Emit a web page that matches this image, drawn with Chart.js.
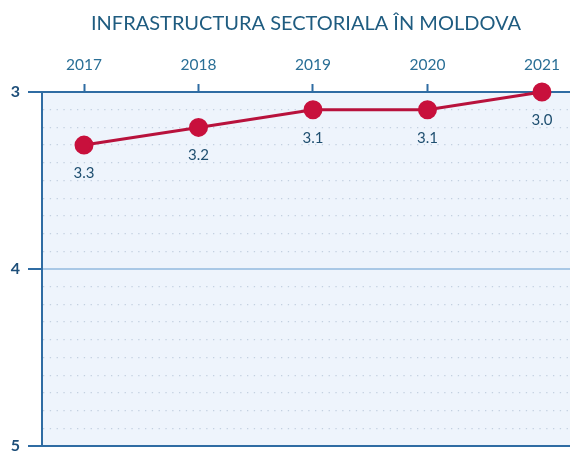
<!DOCTYPE html>
<html>
<head>
<meta charset="utf-8">
<script src="https://cdn.jsdelivr.net/npm/chart.js@4/dist/chart.umd.min.js"></script>
<style>
  html, body { margin: 0; padding: 0; background: #ffffff; }
  #wrap { width: 570px; height: 455px; }
</style>
</head>
<body>
<div id="wrap"><canvas id="myChart"></canvas></div>
<script>
const years = [2017, 2018, 2019, 2020, 2021];
const scores = [3.3, 3.2, 3.1, 3.1, 3.0];
const yTicks = [3, 4, 5];

const axisBlue = '#2f6ca3';

function isWhole(v) {
    return Math.abs(v - Math.round(v)) < 1e-6;
}

// fondul albastru deschis al zonei de desen
const areaBg = {
    id: 'areaBg',
    beforeDraw(chart) {
        const a = chart.chartArea;
        const c = chart.ctx;
        c.save();
        c.fillStyle = '#eef4fc';
        c.fillRect(a.left, a.top, a.right - a.left, a.bottom - a.top);
        c.restore();
    }
};

// etichetele valorilor sub fiecare punct
const valueLabels = {
    id: 'valueLabels',
    afterDatasetsDraw(chart) {
        const c = chart.ctx;
        const meta = chart.getDatasetMeta(0);
        c.save();
        c.font = '15px Lato';
        c.fillStyle = '#1f4f70';
        c.textAlign = 'center';
        c.textBaseline = 'middle';
        meta.data.forEach((pt, i) => {
            c.fillText(scores[i].toFixed(1), pt.x, pt.y + 28);
        });
        c.restore();
    }
};

document.addEventListener('DOMContentLoaded', () => {
    const ctx = document.getElementById('myChart').getContext('2d');

    const data = {
        datasets: [{
            label: 'Infrastructura',
            data: years.map((y, i) => ({ x: y, y: scores[i] })),
            borderColor: '#b8123c',
            borderWidth: 3,
            backgroundColor: '#c8103c',
            pointBackgroundColor: '#c8103c',
            pointBorderColor: '#c8103c',
            pointRadius: 8,
            pointHoverRadius: 8,
            clip: false
        }]
    };

    const options = {
        responsive: true,
        maintainAspectRatio: false,
        animation: false,
        layout: { autoPadding: false, padding: { left: 0, right: 0, top: 0, bottom: 9 } },
        plugins: {
            legend: { display: false },
            tooltip: { enabled: false },
            title: {
                display: true,
                fullSize: false,
                text: 'INFRASTRUCTURA SECTORIALA ÎN MOLDOVA',
                color: '#1f5c80',
                font: { family: 'Lato', size: 20, weight: 'normal' },
                padding: { top: 12, bottom: 6 }
            }
        },
        scales: {
            x: {
                type: 'linear',
                position: 'top',
                min: 2016.633,
                max: 2021.245,
                afterBuildTicks: (scale) => {
                    scale.ticks = years.map(v => ({ value: v }));
                },
                afterFit: (scale) => { scale.height = 50; },
                ticks: {
                    color: '#2a6f96',
                    font: { family: 'Lato', size: 15.5 },
                    padding: 10,
                    maxRotation: 0,
                    callback: (v) => String(v)
                },
                grid: {
                    drawOnChartArea: false,
                    drawTicks: true,
                    tickLength: 8,
                    tickColor: axisBlue,
                    tickWidth: 2
                },
                border: { display: true, color: axisBlue, width: 2 }
            },
            y: {
                reverse: true,
                min: 3,
                max: 5,
                afterFit: (scale) => {
                    scale.width = 42;
                    scale.paddingBottom = 0;
                },
                ticks: {
                    stepSize: 0.1,
                    autoSkip: false,
                    color: '#1e4f7a',
                    font: { family: 'Lato', size: 16, weight: 'bold' },
                    padding: 8,
                    callback: (v) => (yTicks.some(t => Math.abs(t - v) < 1e-6) ? String(Math.round(v)) : '')
                },
                grid: {
                    drawTicks: true,
                    tickLength: 14,
                    tickWidth: 2,
                    tickColor: (c) => (c.tick && isWhole(c.tick.value) ? axisBlue : 'rgba(0,0,0,0)'),
                    color: (c) => {
                        if (!c.tick) return '#c6d4e4';
                        const v = c.tick.value;
                        if (Math.abs(v - 4) < 1e-6) return '#a9c8e6';
                        if (isWhole(v)) return axisBlue;
                        return '#c3d0e0';
                    },
                    lineWidth: (c) => (c.tick && isWhole(c.tick.value) ? 2 : 1.3)
                },
                border: {
                    display: true,
                    color: axisBlue,
                    width: 2,
                    dash: (c) => (c.tick && !isWhole(c.tick.value) ? [1.3, 5.5] : [])
                }
            }
        }
    };

    new Chart(ctx, {
        type: 'line',
        data: data,
        options: options,
        plugins: [areaBg, valueLabels]
    });
});
</script>
</body>
</html>
